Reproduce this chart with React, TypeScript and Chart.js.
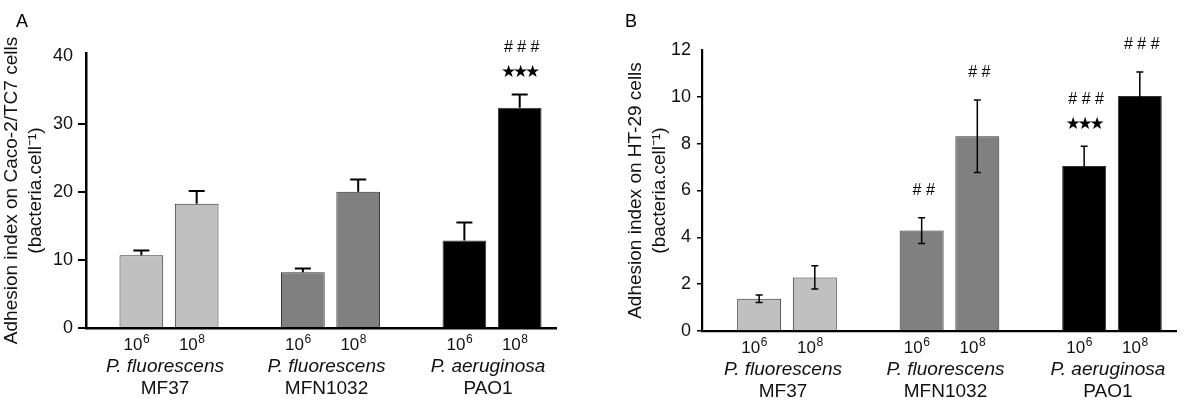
import React, { useEffect, useRef } from 'react';
import { Chart, registerables } from 'chart.js';

Chart.register(...registerables);

// ---------- shared categories ----------
const groupSpecies = ['P. fluorescens', 'P. fluorescens', 'P. aeruginosa'];
const groupStrains = ['MF37', 'MFN1032', 'PAO1'];
const doseBase = '10';
const doseExponents = ['6', '8'];
const groupColors = ['#c0c0c0', '#808080', '#000000'];

// ---------- Panel A : Caco-2/TC7 ----------
const cacoDose6 = [10.7, 8.2, 12.85];
const cacoDose8 = [18.25, 20.0, 32.35];
const cacoErr6 = [0.68, 0.55, 2.65];
const cacoErr8 = [1.87, 1.8, 1.96];
const cacoStars6 = ['', '', ''];
const cacoStars8 = ['', '', '★★★'];
const cacoHash6 = ['', '', ''];
const cacoHash8 = ['', '', '###'];
const cacoTicks = [0, 10, 20, 30, 40];
const cacoTitle = ['Adhesion index on Caco-2/TC7 cells', '(bacteria.cell⁻¹)'];

// ---------- Panel B : HT-29 ----------
const htDose6 = [1.38, 4.29, 7.05];
const htDose8 = [2.29, 8.32, 10.04];
const htErr6 = [0.16, 0.55, 0.84];
const htErr8 = [0.5, 1.55, 1.02];
const htStars6 = ['', '', '★★★'];
const htStars8 = ['', '', ''];
const htHash6 = ['', '##', '###'];
const htHash8 = ['', '##', '###'];
const htTicks = [0, 2, 4, 6, 8, 10, 12];
const htTitle = ['Adhesion index on HT-29 cells', '(bacteria.cell⁻¹)'];

const FONT = "'Liberation Sans', Arial, sans-serif";
const TEXT = '#111';

type PanelCfg = {
  letter: string;
  series: { values: number[]; errors: number[]; stars: string[]; hashes: string[] }[];
  ticks: number[];
  yMax: number;
  title: string[];
  xMin: number;
  xMax: number;
  yWidth: number;
  xHeight: number;
  padTop: number;
  padRight: number;
  titlePad: number;
  tickLength: number;
  tickPadding: number;
  tickWidth: number;
  axisWidth: number;
  twoSided: boolean;
  errWidth: number;
  cap: number;
  letterX: number;
};

function makeOverlay(cfg: PanelCfg) {
  return {
    id: 'overlay' + cfg.letter,
    afterDatasetsDraw(chart: any) {
      const ctx = chart.ctx as CanvasRenderingContext2D;
      const y = chart.scales.y;
      ctx.save();
      cfg.series.forEach((s, di) => {
        const meta = chart.getDatasetMeta(di);
        meta.data.forEach((bar: any, i: number) => {
          const v = s.values[i];
          const e = s.errors[i];
          const top = y.getPixelForValue(v + e);
          const bot = cfg.twoSided ? y.getPixelForValue(v - e) : bar.y;
          ctx.strokeStyle = '#000';
          ctx.lineWidth = cfg.errWidth;
          ctx.beginPath();
          ctx.moveTo(bar.x, bot);
          ctx.lineTo(bar.x, top);
          ctx.moveTo(bar.x - cfg.cap / 2, top);
          ctx.lineTo(bar.x + cfg.cap / 2, top);
          if (cfg.twoSided) {
            ctx.moveTo(bar.x - cfg.cap / 2, bot);
            ctx.lineTo(bar.x + cfg.cap / 2, bot);
          }
          ctx.stroke();

          // significance marks
          ctx.fillStyle = '#000';
          ctx.textAlign = 'center';
          ctx.textBaseline = 'middle';
          const stars = s.stars[i];
          const hashes = s.hashes[i];
          if (stars) {
            ctx.font = "17px 'DejaVu Sans', sans-serif";
            const chars = Array.from(stars);
            const step = 12;
            chars.forEach((ch, k) => {
              const sx = bar.x + 1 + (k - (chars.length - 1) / 2) * step;
              ctx.fillText(ch, sx, top - 22);
            });
          }
          if (hashes) {
            ctx.font = '16px ' + FONT;
            const txt = hashes.split('').join(' ');
            ctx.fillText(txt, bar.x + 2, top - (stars ? 47 : 27));
          }
        });
      });
      ctx.restore();
    },
    afterDraw(chart: any) {
      const ctx = chart.ctx as CanvasRenderingContext2D;
      const area = chart.chartArea;
      ctx.save();
      ctx.fillStyle = TEXT;
      ctx.textBaseline = 'alphabetic';
      // dose labels under each bar
      cfg.series.forEach((s, di) => {
        const meta = chart.getDatasetMeta(di);
        meta.data.forEach((bar: any) => {
          ctx.font = '17px ' + FONT;
          const wBase = ctx.measureText(doseBase).width;
          ctx.font = '12px ' + FONT;
          const wExp = ctx.measureText(doseExponents[di]).width;
          const start = bar.x - 5 - (wBase + wExp) / 2;
          const base = area.bottom + 22;
          ctx.textAlign = 'left';
          ctx.font = '17px ' + FONT;
          ctx.fillText(doseBase, start, base);
          ctx.font = '12px ' + FONT;
          ctx.fillText(doseExponents[di], start + wBase + 0.5, base - 7);
        });
      });
      // species / strain labels
      const m0 = chart.getDatasetMeta(0);
      const m1 = chart.getDatasetMeta(1);
      groupSpecies.forEach((sp, i) => {
        const cx = (m0.data[i].x + m1.data[i].x) / 2 - 4;
        ctx.textAlign = 'center';
        ctx.font = 'italic 19px ' + FONT;
        ctx.fillText(sp, cx, area.bottom + 44);
        ctx.font = '19px ' + FONT;
        ctx.fillText(groupStrains[i], cx, area.bottom + 66);
      });
      // panel letter
      ctx.font = '18px ' + FONT;
      ctx.textAlign = 'left';
      ctx.fillStyle = '#000';
      ctx.fillText(cfg.letter, cfg.letterX, 27);
      ctx.restore();
    },
  };
}

function Panel({ cfg, left }: { cfg: PanelCfg; left: number }) {
  const ref = useRef<HTMLCanvasElement>(null);
  useEffect(() => {
    if (!ref.current) return;
    const topTick = cfg.ticks[cfg.ticks.length - 1];
    const chart = new Chart(ref.current, {
      type: 'bar',
      data: {
        datasets: cfg.series.map((s) => ({
          data: s.values.map((v, i) => ({ x: i, y: v })),
          backgroundColor: groupColors,
          borderColor: '#333',
          borderWidth: 1,
          categoryPercentage: 0.685,
          barPercentage: 0.79,
        })),
      },
      options: {
        responsive: false,
        maintainAspectRatio: false,
        animation: false,
        events: [],
        layout: { padding: { top: cfg.padTop, right: cfg.padRight, bottom: 0, left: 0 } },
        plugins: { legend: { display: false }, tooltip: { enabled: false } },
        scales: {
          x: {
            type: 'linear',
            min: cfg.xMin,
            max: cfg.xMax,
            offset: false,
            grid: { display: false },
            border: { display: true, color: '#000', width: cfg.axisWidth },
            ticks: { display: false },
            afterBuildTicks: (ax: any) => {
              ax.ticks = groupStrains.map((_, i) => ({ value: i }));
            },
            afterFit: (ax: any) => {
              ax.height = cfg.xHeight;
            },
          },
          y: {
            type: 'linear',
            min: 0,
            max: cfg.yMax,
            afterBuildTicks: (ax: any) => {
              ax.ticks = cfg.ticks.map((v) => ({ value: v }));
            },
            afterFit: (ax: any) => {
              ax.width = cfg.yWidth;
            },
            grid: {
              drawOnChartArea: false,
              drawTicks: true,
              tickLength: cfg.tickLength,
              lineWidth: cfg.tickWidth,
              color: (c: any) => (c.tick && c.tick.value === topTick ? 'rgba(0,0,0,0)' : '#000'),
            },
            border: { display: true, color: '#000', width: cfg.axisWidth },
            ticks: {
              font: { family: FONT, size: 18 },
              color: TEXT,
              padding: cfg.tickPadding,
            },
            title: {
              display: true,
              text: cfg.title,
              color: TEXT,
              font: { family: FONT, size: 19, lineHeight: 1.25 },
              padding: { top: cfg.titlePad, bottom: 0 },
            },
          },
        },
      } as any,
      plugins: [makeOverlay(cfg)],
    });
    return () => chart.destroy();
  }, [cfg]);
  return (
    <canvas
      ref={ref}
      width={600}
      height={420}
      style={{ position: 'absolute', left, top: 0, width: 600, height: 420, display: 'block' }}
    />
  );
}

const panelA: PanelCfg = {
  letter: 'A',
  series: [
    { values: cacoDose6, errors: cacoErr6, stars: cacoStars6, hashes: cacoHash6 },
    { values: cacoDose8, errors: cacoErr8, stars: cacoStars8, hashes: cacoHash8 },
  ],
  ticks: cacoTicks,
  yMax: 40.4,
  title: cacoTitle,
  xMin: -0.514,
  xMax: 2.396,
  yWidth: 86,
  xHeight: 92,
  padTop: 53,
  padRight: 44,
  titlePad: 0,
  tickLength: 8,
  tickPadding: 5,
  tickWidth: 2,
  axisWidth: 2.5,
  twoSided: false,
  errWidth: 2,
  cap: 16,
  letterX: 16,
};

const panelB: PanelCfg = {
  letter: 'B',
  series: [
    { values: htDose6, errors: htErr6, stars: htStars6, hashes: htHash6 },
    { values: htDose8, errors: htErr8, stars: htStars8, hashes: htHash8 },
  ],
  ticks: htTicks,
  yMax: 12,
  title: htTitle,
  xMin: -0.523,
  xMax: 2.394,
  yWidth: 102,
  xHeight: 89,
  padTop: 50,
  padRight: 24,
  titlePad: 24,
  tickLength: 5,
  tickPadding: 6,
  tickWidth: 1.5,
  axisWidth: 2.2,
  twoSided: true,
  errWidth: 1.5,
  cap: 7,
  letterX: 25,
};

export default function App() {
  return (
    <div style={{ position: 'absolute', left: 0, top: 0, width: 1200, height: 420, background: '#fff' }}>
      <Panel cfg={panelA} left={0} />
      <Panel cfg={panelB} left={600} />
    </div>
  );
}
